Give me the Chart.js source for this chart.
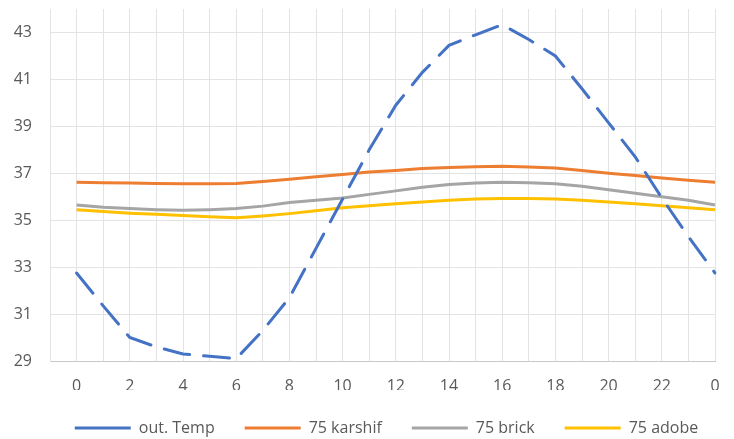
<!DOCTYPE html>
<html><head><meta charset="utf-8">
<script src="https://cdn.jsdelivr.net/npm/chart.js@4/dist/chart.umd.min.js"></script>
<style>html,body{margin:0;padding:0;background:#fff;}#wrap{width:734px;height:439px;}</style>
</head><body><div id="wrap"><canvas id="c" width="734" height="439"></canvas></div>
<script>
const hours = ['0','1','2','3','4','5','6','7','8','9','10','11','12','13','14','15','16','17','18','19','20','21','22','23','0'];
const outTemp = [32.75,31.35,30.0,29.6,29.3,29.2,29.1,30.3,31.7,33.8,35.9,38.0,39.9,41.3,42.45,42.9,43.33,42.7,42.0,40.6,39.15,37.7,35.95,34.3,32.75];
const karshif = [36.62,36.6,36.58,36.56,36.55,36.55,36.56,36.65,36.75,36.85,36.95,37.05,37.12,37.2,37.25,37.28,37.3,37.27,37.22,37.12,37.0,36.9,36.8,36.7,36.62];
const brick = [35.65,35.55,35.5,35.45,35.42,35.45,35.5,35.6,35.75,35.85,35.95,36.1,36.25,36.4,36.52,36.58,36.62,36.6,36.55,36.45,36.3,36.15,36.0,35.85,35.65];
const adobe = [35.45,35.37,35.3,35.25,35.2,35.15,35.1,35.18,35.28,35.4,35.53,35.62,35.7,35.78,35.85,35.9,35.92,35.92,35.9,35.85,35.78,35.7,35.62,35.53,35.45];
const yTicks = [29,31,33,35,37,39,41,43];
const seriesNames = ['out. Temp','75 karshif','75 brick','75 adobe'];

const labels = [''].concat(hours);
const pad = arr => [null].concat(arr);
const FONT = '"Open Sans", sans-serif';
const zeroPad = s => { s.paddingTop = 0; s.paddingBottom = 0; s.paddingLeft = 0; s.paddingRight = 0; };

const legendShift = {
  id: 'legendShift',
  afterLayout(chart) {
    if (chart.legend) { chart.legend.left += 29; chart.legend.right += 29; }
  }
};

new Chart(document.getElementById('c'), {
  type: 'line',
  data: {
    labels: labels,
    datasets: [
      {label: seriesNames[0], data: pad(outTemp), borderColor: '#4472C4', backgroundColor: '#4472C4', borderWidth: 3, borderDash: [26, 14], borderCapStyle: 'round', pointRadius: 0, tension: 0},
      {label: seriesNames[1], data: pad(karshif), borderColor: '#ED7D31', backgroundColor: '#ED7D31', borderWidth: 3, pointRadius: 0, tension: 0},
      {label: seriesNames[2], data: pad(brick), borderColor: '#A5A5A5', backgroundColor: '#A5A5A5', borderWidth: 3, pointRadius: 0, tension: 0},
      {label: seriesNames[3], data: pad(adobe), borderColor: '#FFC000', backgroundColor: '#FFC000', borderWidth: 3, pointRadius: 0, tension: 0}
    ]
  },
  plugins: [legendShift],
  options: {
    responsive: false,
    animation: false,
    layout: {padding: {left: 0, right: 19, top: 9, bottom: -7}},
    plugins: {
      tooltip: {enabled: false},
      legend: {
        position: 'bottom',
        labels: {
          usePointStyle: true, pointStyle: 'line', pointStyleWidth: 56, boxHeight: 16,
          color: '#595959', font: {family: FONT, size: 16}, padding: 30
        }
      }
    },
    scales: {
      x: {
        type: 'category',
        offset: false,
        afterFit: s => { s.height = 29; zeroPad(s); },
        grid: {color: '#e3e3e3', lineWidth: 1, drawTicks: false},
        border: {color: '#c8c8c8', width: 1},
        ticks: {
          autoSkip: false, maxRotation: 0, padding: 16, color: '#595959', font: {family: FONT, size: 16},
          callback: function(v, i) { return (i % 2 === 1) ? this.getLabelForValue(v) : ''; }
        }
      },
      y: {
        min: 29, max: 44,
        afterFit: s => { s.width = 50; zeroPad(s); },
        grid: {color: '#e3e3e3', lineWidth: 1, drawTicks: false},
        border: {color: '#e3e3e3', width: 1},
        afterBuildTicks: axis => { axis.ticks = yTicks.map(v => ({value: v})); },
        ticks: {padding: 18, color: '#595959', font: {family: FONT, size: 16}}
      }
    }
  }
});
</script></body></html>
